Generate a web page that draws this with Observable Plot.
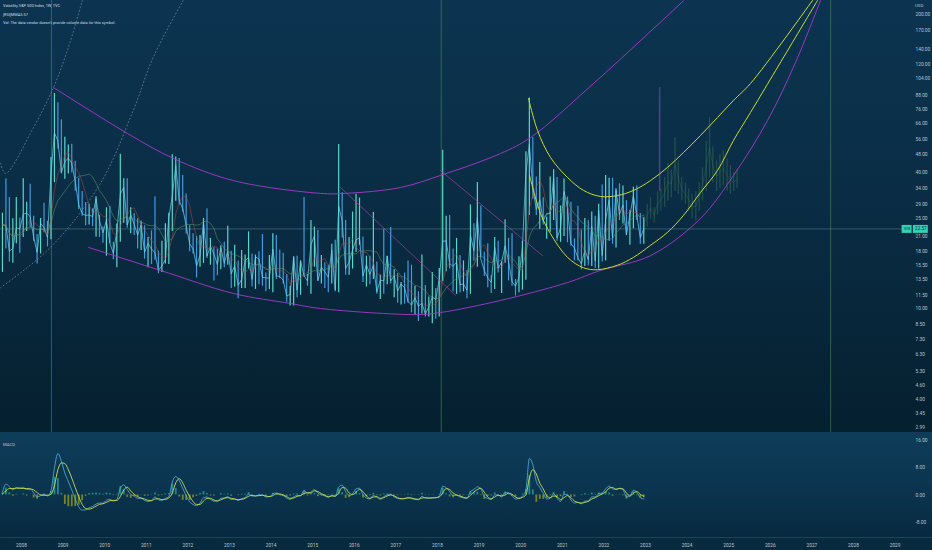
<!DOCTYPE html>
<html><head><meta charset="utf-8">
<script src="https://cdn.jsdelivr.net/npm/d3@7"></script>
<script src="https://cdn.jsdelivr.net/npm/@observablehq/plot@0.6"></script>
<style>
body{margin:0;background:#062333;}
#wrap{position:relative;width:932px;height:550px;overflow:hidden;font-family:Roboto,"Liberation Sans",sans-serif;background:#062333;}
#wrap svg{display:block;}
.ov{position:absolute;white-space:nowrap;color:#d3dde2;font-size:3.9px;line-height:1;}
#axisrow{border-top:1px solid #1c4458;}
</style></head><body><div id="wrap"><div id="main"></div><div id="macd"></div><div id="axisrow"></div>
<div class="ov" style="left:3px;top:4px;">Volatility S&amp;P 500 Index, 1W, TVC</div>
<div class="ov" style="left:3px;top:13px;">[RSI]MMAS.57</div>
<div class="ov" style="left:3px;top:21px;">Vol: The data vendor doesn't provide volume data for this symbol.</div>
<div class="ov" style="left:915px;top:4px;color:#b6c4cc;font-size:4.4px;">USD</div>
<div class="ov" style="left:3px;top:443px;color:#b6c4cc;font-size:4.2px;">MACD</div>
</div>
<script>
// ---------- monthly VIX data, Jul 2007 .. Dec 2022 ----------
const high = [
 26.5,37.5,31.1,25.0,31.1,25.2,
 37.6,29.6,35.6,25.7,21.3,25.1,29.3,24.4,46.7,89.5,81.5,68.6,
 57.4,53.0,53.4,44.9,37.8,33.0,29.5,29.0,27.7,31.3,25.9,23.0,
 28.0,28.4,19.7,23.7,48.2,37.6,37.6,28.0,26.4,25.0,24.4,23.3,
 20.7,22.1,31.3,18.0,19.9,23.8,26.5,48.0,46.9,46.2,38.9,32.2,
 23.3,21.5,20.9,21.1,25.1,27.7,20.5,18.7,18.4,19.0,19.7,23.2,
 18.0,19.1,16.3,18.1,17.3,21.9,17.5,17.3,17.9,21.3,14.4,17.2,
 21.5,21.1,18.2,17.6,14.2,12.6,17.0,17.1,16.3,31.1,14.2,24.6,
 23.0,22.2,17.2,16.0,15.6,19.3,20.1,53.3,32.6,24.6,20.7,26.8,
 32.1,30.9,20.8,17.1,17.1,26.7,16.1,14.1,22.5,17.1,22.9,14.9,
 14.3,13.1,14.4,16.3,15.6,12.6,11.9,17.3,12.7,11.3,14.5,12.3,
 15.1,50.3,25.7,25.9,18.4,20.5,17.2,16.3,14.8,28.8,23.8,36.2,
 28.5,17.8,19.4,14.0,20.7,19.9,16.1,24.8,20.5,21.5,13.5,17.0,
 19.9,49.5,85.5,57.0,38.3,44.4,31.0,25.4,38.3,41.2,38.1,28.5,
 37.5,31.2,29.6,20.4,28.4,22.3,25.1,24.5,26.8,25.7,29.0,35.3,
 38.9,37.8,37.8,34.0,35.7,34.9,30.1,27.2,34.5,34.9,26.4,25.3];
const low = [
 14.5,18.4,16.1,15.9,19.4,17.6,
 20.7,22.0,22.8,19.9,15.8,17.5,21.7,18.8,20.2,36.2,50.7,39.5,
 37.4,39.5,39.9,33.1,27.5,25.7,23.3,23.5,23.1,20.8,20.7,19.5,
 17.1,19.4,16.5,15.2,19.7,23.9,22.7,21.5,21.1,18.4,18.1,16.6,
 15.2,15.7,16.4,14.3,14.5,15.8,15.7,22.0,29.9,28.8,26.8,21.4,
 17.9,17.5,13.7,15.3,15.9,16.7,15.6,13.3,14.0,14.9,15.2,15.6,
 12.3,12.5,11.1,12.3,12.3,15.0,12.5,12.2,12.8,12.6,11.9,12.2,
 11.8,13.5,13.6,12.9,10.7,10.3,10.3,11.2,11.5,13.8,12.6,11.6,
 15.3,13.3,12.9,12.3,11.8,12.9,11.9,11.8,20.6,14.1,14.1,15.0,
 17.8,19.1,13.1,12.5,12.8,13.5,11.6,11.0,11.6,12.8,12.9,11.2,
 10.6,10.4,10.5,10.6,9.6,9.4,8.8,9.5,9.2,9.2,8.6,9.0,
 9.2,13.2,14.6,15.0,11.9,11.6,11.8,11.9,11.1,11.6,16.3,15.3,
 16.9,13.9,12.4,11.7,12.2,14.4,11.7,15.9,13.3,12.6,11.4,11.8,
 12.1,13.4,25.9,30.5,25.9,22.5,23.5,20.3,21.8,24.6,19.9,19.7,
 20.9,19.6,18.9,16.3,16.3,14.9,15.4,15.5,15.4,15.1,15.0,16.1,
 16.3,19.9,19.3,18.6,24.6,23.7,21.1,19.1,22.6,24.6,19.3,19.3];
const close = [
 23.5,23.4,18.0,18.5,22.9,22.5,
 26.2,26.5,25.6,20.8,17.8,23.9,22.9,20.7,39.4,59.9,55.3,40.0,
 44.8,46.4,44.1,36.5,28.9,26.4,25.9,26.0,25.6,30.7,24.5,21.7,
 24.6,19.5,17.6,22.1,32.1,34.5,23.5,26.0,23.7,21.2,23.5,17.8,
 19.5,18.4,17.7,14.8,15.5,16.5,25.3,31.6,43.0,30.0,27.8,23.4,
 19.4,18.4,15.5,17.2,24.1,17.1,18.9,17.5,15.7,18.6,15.9,18.0,
 14.3,15.5,12.7,13.5,16.3,16.9,13.5,17.0,16.6,13.8,13.7,13.7,
 18.4,14.0,13.9,13.4,11.4,11.6,17.0,12.1,16.3,14.0,13.3,19.2,
 21.0,13.3,15.3,14.6,13.8,18.2,12.1,28.4,24.5,15.1,16.1,18.2,
 20.2,20.6,14.0,15.7,14.2,15.6,11.9,13.4,13.3,17.1,13.3,14.0,
 12.0,12.9,12.4,10.8,10.4,11.2,10.3,10.6,9.5,10.2,11.3,11.0,
 13.5,19.9,20.0,15.9,15.4,16.1,12.8,12.9,12.1,21.2,18.1,25.4,
 16.6,14.8,13.7,13.1,18.7,15.1,16.1,19.0,16.2,13.2,12.6,13.8,
 18.8,40.1,53.5,34.2,27.5,30.4,24.5,26.4,26.4,38.0,20.6,22.8,
 33.1,28.0,19.4,18.6,16.8,15.8,18.2,16.5,23.1,16.3,27.2,17.2,
 24.8,30.2,20.6,33.4,26.2,28.7,21.3,25.9,31.6,25.9,20.6,22.57];

// ---------- MACD pane (monthly readings) ----------
const macdLine = [
 0.8,3.2,2.5,1.5,2.2,2.0,
 2.2,1.6,1.8,0.6,-0.6,-0.2,0.2,-0.3,1.2,8.0,12.3,10.0,
 6.5,4.0,1.5,-1.2,-3.5,-4.5,-4.4,-3.8,-3.4,-2.7,-2.4,-2.4,
 -1.6,-1.3,-1.8,-1.4,2.0,3.0,1.6,0.2,-0.3,-1.0,-1.0,-1.6,
 -1.9,-1.6,-0.6,-1.4,-1.6,-1.0,-0.5,3.8,5.5,4.2,2.0,-0.2,
 -2.0,-2.8,-3.2,-2.4,-0.8,-0.6,-1.3,-1.8,-1.8,-1.0,-0.9,-0.5,
 -1.4,-1.2,-1.6,-1.1,-0.8,0.3,-0.3,-0.3,0.0,0.0,-0.6,-0.5,
 0.3,0.6,0.1,-0.2,-0.9,-1.3,-0.6,-0.1,-0.2,1.4,0.4,0.9,
 1.6,0.5,0.1,-0.3,-0.7,-0.1,-0.5,2.4,2.9,1.0,-0.2,0.3,
 1.8,2.0,0.1,-0.9,-1.2,-0.1,-0.7,-1.3,-0.5,0.0,0.2,-0.6,
 -1.0,-1.2,-1.0,-0.7,-1.1,-1.3,-1.4,-0.4,-0.9,-1.0,-0.8,-0.8,
 -0.4,2.6,2.2,1.0,-0.2,-0.1,-0.6,-0.9,-1.0,1.0,1.6,2.4,
 1.8,-0.5,-1.0,-1.4,0.0,0.0,-0.6,0.8,0.6,-0.2,-1.2,-1.0,
 -0.4,1.5,10.8,9.0,4.0,2.2,0.5,-1.2,-1.0,0.4,-1.0,-1.9,
 0.2,0.0,-1.5,-2.4,-2.2,-2.6,-1.8,-1.8,-0.6,-0.6,0.4,0.6,
 1.8,2.6,1.8,1.6,2.0,1.6,-0.6,-0.4,1.4,0.8,-0.8,-1.2];
const signalLine = [
 0.3,1.2,1.9,1.9,2.0,2.0,
 1.9,1.9,1.8,1.5,0.7,0.0,-0.1,-0.1,0.2,2.8,7.5,9.5,
 9.3,7.5,5.0,2.2,-0.5,-2.8,-4.0,-4.2,-3.9,-3.3,-2.8,-2.6,
 -2.2,-1.7,-1.6,-1.6,-0.5,1.5,2.3,1.2,0.2,-0.5,-0.9,-1.2,
 -1.6,-1.7,-1.2,-1.1,-1.4,-1.3,-0.9,0.6,3.6,4.8,3.6,1.4,
 -0.4,-2.0,-2.8,-2.8,-1.8,-1.0,-1.0,-1.5,-1.8,-1.4,-1.0,-0.8,
 -1.0,-1.2,-1.4,-1.3,-1.0,-0.4,-0.1,-0.3,-0.2,-0.1,-0.3,-0.5,
 -0.2,0.3,0.3,0.0,-0.5,-1.0,-0.9,-0.4,-0.2,0.4,0.7,0.6,
 1.2,1.0,0.4,-0.1,-0.5,-0.3,-0.3,0.6,2.2,2.0,0.6,0.1,
 0.8,1.6,1.0,-0.3,-1.0,-0.6,-0.5,-1.0,-0.8,-0.3,0.0,-0.3,
 -0.8,-1.1,-1.1,-0.9,-0.9,-1.2,-1.3,-0.9,-0.8,-0.9,-0.9,-0.8,
 -0.6,0.6,1.9,1.6,0.6,0.0,-0.3,-0.7,-0.9,-0.1,0.9,1.6,
 2.0,0.8,-0.6,-1.1,-0.6,-0.1,-0.3,0.0,0.5,0.2,-0.6,-1.0,
 -0.7,0.0,5.0,7.5,6.2,3.5,1.8,-0.2,-0.8,-0.3,-0.5,-1.4,
 -0.8,-0.2,-0.8,-1.8,-2.2,-2.4,-2.2,-1.9,-1.2,-0.8,-0.2,0.3,
 0.9,2.0,2.2,1.7,1.9,1.8,0.6,-0.3,0.5,1.0,0.2,-0.4];

// ---------- projected "ghost" pattern (2023-2025) ----------
const ghostYear = [2022.96,2023.04,2023.12,2023.21,2023.29,2023.37,2023.46,2023.54,2023.62,2023.71,2023.79,2023.87,2023.96,2024.04,2024.12,2024.21,2024.29,2024.37,2024.46,2024.54,2024.62,2024.71,2024.79,2024.87,2024.96,2025.04,2025.12,2025.2];
const ghostHigh = [26,29,31,28,33,34,38,44,41,57,45,38,36,34,32,33,36,42,55,70,52,45,48,50,46,43,40,41];
const ghostLow  = [22,23,25,24,26,27,28,30,31,33,32,30,29,27,25,24.5,27,30,33,38,36,33,34,35,33,32,33,34];
const ghostSpikeYear = [2023.34];
const ghostSpikeLow = [33];
const ghostSpikeHigh = [95];

// ---------- drawings (year, value) ----------
const upperArcYear = [2008.769,2010.548,2011.654,2013.096,2015.188,2015.788,2017.111,2018.072,2019.514,2020.236,2021.75,2023.92];
const upperArcVal  = [95.1,59.6,46.2,36.9,32.4,32.4,34.4,38.9,48.6,57.2,99.1,230.6];
const lowerArcYear = [2009.611,2011.341,2013.096,2014.466,2015.188,2017.519,2018.072,2019.514,2021.125,2021.918,2023.12,2024.322,2025.115,2025.933,2026.606,2027.207];
const lowerArcVal  = [18.7,14.8,11.7,10.57,10.04,9.44,9.64,10.9,13.08,14.8,17.2,25.1,38.9,68.0,122.7,230.6];
const upperYellowYear = [2020.188,2020.404,2020.716,2021.125,2021.51,2021.918,2022.327,2022.712,2023.12,2023.529,2023.913,2024.322,2024.731,2025.115,2025.524,2027.014];
const upperYellowVal  = [85.1,61.5,46.7,38.1,33.4,31.4,31.7,33.4,36.9,42.2,49.1,58.4,70.1,83.4,99.1,230.6];
const lowerYellowYear = [2020.212,2020.476,2020.716,2021.125,2021.51,2021.846,2022.327,2022.712,2023.12,2023.529,2023.913,2024.322,2024.731,2025.115,2025.524,2027.135];
const lowerYellowVal  = [38.9,26.4,21.5,16.9,15.2,14.9,15.6,16.9,19.1,21.8,25.9,32.7,40.9,55.5,73.8,230.6];
const trendAYear = [2015.668,2018.433], trendAVal = [34.4,11.5];
const trendBYear = [2018.072,2020.524], trendBVal = [40.9,17.2];
const dotted1Year = [2007.496,2007.616,2008.288,2008.767,2009.103,2009.463];
const dotted1Val  = [44,39.7,63.3,95.1,138.7,230.6];
const dotted2Year = [2007.496,2008.695,2009.894,2010.686,2011.165,2011.885];
const dotted2Val  = [12.4,18.7,35.8,75.3,129.1,230.6];
const verticalYears = [2008.72,2018.09,2027.45];

// ---------- ticks ----------
const priceTicks = [200,170,140,120,104,88,76,66,56,48,40,34,29,25,21,18,15.5,13.5,11.5,10,8.5,7.3,6.3,5.3,4.6,4.0,3.45,2.99];
const macdTicks = [16,8,0,-8];
const yearTicks = [2008,2009,2010,2011,2012,2013,2014,2015,2016,2017,2018,2019,2020,2021,2022,2023,2024,2025,2026,2027,2028,2029];

// ---------- tables ----------
const dates = close.map((_, i) => 2007.5 + (i + 0.5) / 12);
const prices = dates.map((d, i) => ({date: d, high: high[i], low: low[i], close: close[i], up: i === 0 || close[i] >= close[i - 1]}));
const macdRows = dates.map((d, i) => ({date: d, macd: macdLine[i], signal: signalLine[i], hist: macdLine[i] - signalLine[i]}));
const ghost = ghostYear.map((d, i) => ({date: d, high: ghostHigh[i], low: ghostLow[i]}));
const ghostSpike = ghostSpikeYear.map((d, i) => ({date: d, high: ghostSpikeHigh[i], low: ghostSpikeLow[i]}));
const pts = (xs, ys) => xs.map((x, i) => ({x, y: ys[i]}));
const last = close[close.length - 1];
const priceTickRows = priceTicks.map(t => ({t, label: t.toFixed(2)}));

const X0 = 2007.4952, X1 = 2029.4183;
const FONT = "Roboto, 'Liberation Sans', sans-serif";
const LABEL = "#b8c6ce";
const curveOpts = (stroke, w, extra) => Object.assign({x: "x", y: "y", stroke, strokeWidth: w, curve: "catmull-rom", clip: true}, extra || {});

const main = Plot.plot({
  width: 932, height: 432, marginLeft: 0, marginRight: 20, marginTop: 0, marginBottom: 0,
  style: {background: "linear-gradient(180deg, #0c3450 0%, #0a2d45 45%, #05202f 100%)", fontFamily: FONT, overflow: "visible"},
  x: {domain: [X0, X1], axis: null},
  y: {type: "log", domain: [2.844, 230.6], axis: null},
  marks: [
    Plot.ruleX(verticalYears, {stroke: "#4f8f63", strokeOpacity: 0.7, strokeWidth: 0.8}),
    Plot.line(pts(dotted1Year, dotted1Val), curveOpts("#8ea3b0", 0.8, {strokeDasharray: "1,2.6", strokeOpacity: 0.75})),
    Plot.line(pts(dotted2Year, dotted2Val), curveOpts("#8ea3b0", 0.8, {strokeDasharray: "1,2.6", strokeOpacity: 0.75})),
    // ghost projection
    Plot.ruleX(ghost, {x: "date", y1: "low", y2: "high", stroke: "#3f7a52", strokeOpacity: 0.45, strokeWidth: 1.3}),
    Plot.line(ghost, {x: "date", y: d => Math.sqrt(d.high * d.low), stroke: "#4a8a5c", strokeOpacity: 0.35, strokeWidth: 0.7}),
    Plot.ruleX(ghostSpike, {x: "date", y1: "low", y2: "high", stroke: "#8a55b0", strokeOpacity: 0.55, strokeWidth: 1.5}),
    // price
    Plot.ruleX(prices, {filter: d => !d.up, x: "date", y1: "low", y2: "high", stroke: "#3f9be0", strokeWidth: 1.2}),
    Plot.ruleX(prices, {filter: d => d.up, x: "date", y1: "low", y2: "high", stroke: "#58d8cb", strokeWidth: 1.2}),
    Plot.line(prices, {x: "date", y: "close", stroke: "#6fd2ec", strokeWidth: 0.8, strokeOpacity: 0.9}),
    // moving averages
    Plot.line(prices, Plot.windowY({k: 5, anchor: "end", reduce: "mean"}, {x: "date", y: "close", stroke: "#b0483f", strokeWidth: 0.7, strokeOpacity: 0.75})),
    Plot.line(prices, Plot.windowY({k: 12, anchor: "end", reduce: "mean"}, {x: "date", y: "close", stroke: "#5c9c6c", strokeWidth: 0.7, strokeOpacity: 0.75})),
    // drawings
    Plot.line(pts(upperArcYear, upperArcVal), curveOpts("#a53bcc", 0.9)),
    Plot.line(pts(lowerArcYear, lowerArcVal), curveOpts("#a53bcc", 0.9)),
    Plot.line(pts(trendAYear, trendAVal), curveOpts("#a8479f", 0.8, {curve: "linear", strokeOpacity: 0.8})),
    Plot.line(pts(trendBYear, trendBVal), curveOpts("#a8479f", 0.8, {curve: "linear", strokeOpacity: 0.8})),
    Plot.line(pts(upperYellowYear, upperYellowVal), curveOpts("#c9dc32", 1.0)),
    Plot.line(pts(lowerYellowYear, lowerYellowVal), curveOpts("#c9dc32", 1.0)),
    // last price line + tag
    Plot.ruleY([last], {stroke: "#7f9aa8", strokeOpacity: 0.5, strokeWidth: 0.8}),
    Plot.ruleY([last], {x1: X1 - 0.25, x2: X1 - 0.01, stroke: "#33d1b4", strokeWidth: 8}),
    Plot.ruleY([last], {x1: X1 + 0.02, x2: X1 + 0.38, stroke: "#33d1b4", strokeWidth: 8}),
    Plot.text([last], {x: X1 - 0.13, y: d => d, text: () => "VIX", fill: "#0b2b3b", fontSize: 4.4}),
    Plot.text([last], {x: X1 + 0.2, y: d => d, text: d => d.toFixed(2), fill: "#0b2b3b", fontSize: 4.6}),
    // price axis labels
    Plot.text(priceTickRows, {x: X1, y: "t", text: "label", dx: 3, textAnchor: "start", fill: LABEL, fontSize: 4.8})
  ]
});

const macd = Plot.plot({
  width: 932, height: 105, marginLeft: 0, marginRight: 20, marginTop: 0, marginBottom: 0,
  style: {background: "linear-gradient(180deg, #0e3d5a 0%, #0b3550 50%, #082a40 100%)", fontFamily: FONT, overflow: "visible"},
  x: {domain: [X0, X1], axis: null},
  y: {domain: [-12.6, 18.5], axis: null},
  marks: [
    Plot.ruleX(macdRows, {filter: d => d.hist >= 0, x: "date", y1: 0, y2: "hist", stroke: "#2aa6a4", strokeWidth: 1.8, strokeOpacity: 0.75}),
    Plot.ruleX(macdRows, {filter: d => d.hist < 0, x: "date", y1: 0, y2: "hist", stroke: "#9aa21c", strokeWidth: 1.8, strokeOpacity: 0.75}),
    Plot.line(macdRows, {x: "date", y: "macd", stroke: "#55b4dc", strokeWidth: 0.8, curve: "monotone-x"}),
    Plot.line(macdRows, {x: "date", y: "signal", stroke: "#cfe04a", strokeWidth: 0.9, curve: "monotone-x"}),
    Plot.text(macdTicks, {x: X1, y: d => d, text: d => d.toFixed(2), dx: 3, textAnchor: "start", fill: LABEL, fontSize: 4.8})
  ]
});

const axisRow = Plot.plot({
  width: 932, height: 12, marginLeft: 0, marginRight: 20, marginTop: 0, marginBottom: 0,
  style: {background: "#082a3e", fontFamily: FONT, overflow: "visible"},
  x: {domain: [X0, X1], axis: null},
  y: {domain: [0, 1], axis: null},
  marks: [
    Plot.text(yearTicks, {x: d => d, y: 0.45, text: d => String(d), fill: LABEL, fontSize: 4.8})
  ]
});

document.getElementById("main").appendChild(main);
document.getElementById("macd").appendChild(macd);
document.getElementById("axisrow").appendChild(axisRow);
</script></body></html>
